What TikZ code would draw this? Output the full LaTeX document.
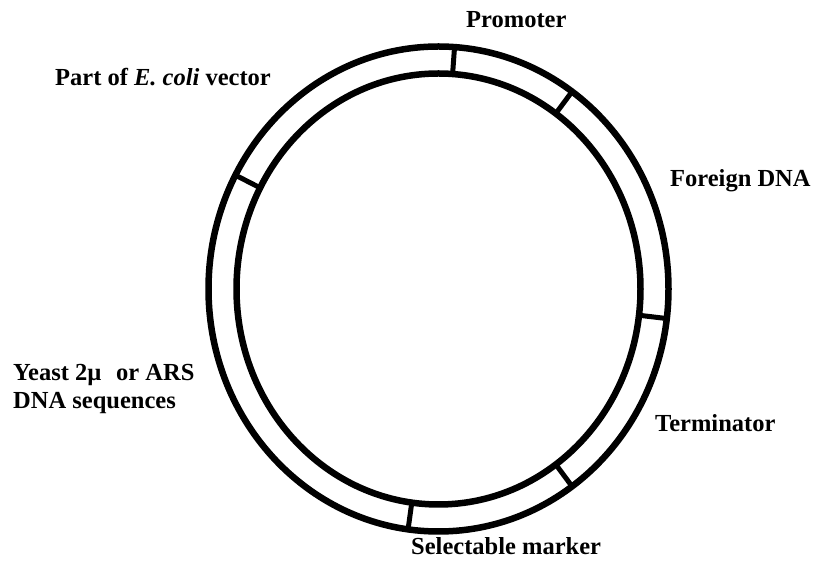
\documentclass[tikz,border=0pt]{standalone}
\usepackage{fontspec}
\setmainfont{Liberation Serif}
\usepackage{tikz}
\usetikzlibrary{calc}
\usepackage{xcolor}
\definecolor{ink}{HTML}{000000}
\newcommand{\labelfont}{\fontsize{24.5}{28.5}\selectfont\bfseries}

\begin{document}
\begin{tikzpicture}[x=1pt,y=1pt,
  ring/.style={ink,line width=6.5pt},
  segtick/.style={ink,line width=5pt},
  lbl/.style={font=\labelfont,inner sep=0pt,anchor=base west,align=left}]
  \useasboundingbox (0,0) rectangle (823,567);

  % Plasmid ring
  \coordinate (centre) at (438.5,278);
  \draw[ring] (centre) ellipse (230 and 242.5);
  \draw[ring] (centre) ellipse (202 and 215.5);

  % Segment borders
  \foreach \t in {86,54.5,-7,-54.5,262.4,152} {
    \draw[segtick] ($(centre)+(\t:202 and 215.5)$) -- ($(centre)+(\t:230 and 242.5)$);
  }

  % Labels
  \node[lbl] (promoter) at (466,539) {Promoter};
  \node[lbl] (ecoli) at (55,481) {Part of \textit{E. coli} vector};
  \node[lbl] (foreign) at (670,380) {Foreign DNA};
  \node[lbl] (terminator) at (655,135) {Terminator};
  \node[lbl] (yeast) at (13,158) {Yeast 2µ\hspace{0.6em}or ARS\\DNA sequences};
  \node[lbl] (marker) at (411,12) {Selectable marker};
\end{tikzpicture}
\end{document}
